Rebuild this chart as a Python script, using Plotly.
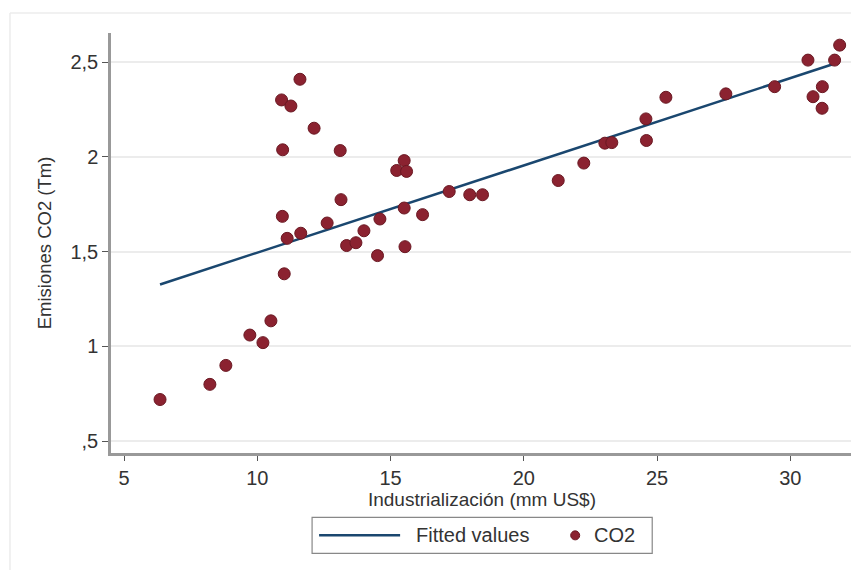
import numpy as np
import plotly.graph_objects as go

# Data
industrializacion = [6.35, 8.22, 8.82, 9.72, 10.21, 10.51, 11.01, 10.94, 11.12, 11.63,
                     10.91, 11.26, 11.60, 10.95, 12.13, 13.11, 13.14, 12.62, 13.35, 13.70,
                     14.00, 14.51, 14.60, 15.54, 15.51, 16.20, 15.51, 15.23, 15.60, 17.20,
                     17.97, 18.45, 21.29, 22.25, 23.04, 23.30, 24.58, 24.60, 25.33, 27.58,
                     29.41, 30.66, 30.85, 31.20, 31.19, 31.66, 31.85]
co2 = [0.72, 0.80, 0.90, 1.06, 1.02, 1.135, 1.383, 1.686, 1.57, 1.597,
       2.30, 2.268, 2.409, 2.037, 2.151, 2.033, 1.774, 1.651, 1.532, 1.547,
       1.61, 1.479, 1.672, 1.526, 1.73, 1.695, 1.98, 1.928, 1.923, 1.817,
       1.80, 1.80, 1.875, 1.967, 2.072, 2.075, 2.20, 2.086, 2.314, 2.332,
       2.37, 2.51, 2.317, 2.37, 2.256, 2.51, 2.589]

x_tickvals = [5, 10, 15, 20, 25, 30]
y_tickvals = [0.5, 1, 1.5, 2, 2.5]
y_ticktext = [",5", "1", "1,5", "2", "2,5"]

x_title = "Industrialización (mm US$)"
y_title = "Emisiones CO2 (Tm)"
legend_labels = ["Fitted values", "CO2"]

# Linear fit (like Stata lfit)
xa = np.array(industrializacion)
ya = np.array(co2)
slope, intercept = np.polyfit(xa, ya, 1)
fit_x = np.array([xa.min(), xa.max()])
fit_y = intercept + slope * fit_x

LINE_COLOR = "#1a476f"
MARKER_COLOR = "#8b2230"
FONT = "Liberation Sans, Arial, sans-serif"
TEXT = "#333333"

W, H = 859, 570
OFF = 8  # page body margin
# target plot box on screen: left 111, right 852.7, top 33, bottom 452.7
L = 111 - OFF
T = 33 - OFF
R = W - (852.7 - OFF)
B = H - (452.7 - OFF)
pw = W - L - R
ph = H - T - B


def px(xs):
    return (xs - OFF - L) / pw


def py(ys):
    return (H - B - (ys - OFF)) / ph


fig = go.Figure()
fig.add_trace(go.Scatter(x=fit_x, y=fit_y, mode="lines", name=legend_labels[0],
                         line=dict(color=LINE_COLOR, width=2.5), showlegend=False))
fig.add_trace(go.Scatter(x=industrializacion, y=co2, mode="markers", name=legend_labels[1],
                         marker=dict(color=MARKER_COLOR, size=12,
                                     line=dict(color="#6a1822", width=1)),
                         showlegend=False))

shapes = []
# faint outer frame (left and top edges)
shapes.append(dict(type="line", xref="paper", yref="paper", x0=px(10), x1=px(W + 20), y0=py(13), y1=py(13),
                   line=dict(color="#ececec", width=1.5)))
shapes.append(dict(type="line", xref="paper", yref="paper", x0=px(10), x1=px(10), y0=py(13), y1=py(H + 20),
                   line=dict(color="#ececec", width=1.5)))
# legend box
shapes.append(dict(type="rect", xref="paper", yref="paper", x0=px(312), x1=px(652), y0=py(517), y1=py(553),
                   line=dict(color="#888888", width=1.2), fillcolor="white"))
shapes.append(dict(type="line", xref="paper", yref="paper", x0=px(319), x1=px(400), y0=py(535), y1=py(535),
                   line=dict(color=LINE_COLOR, width=2.5)))
shapes.append(dict(type="circle", xref="paper", yref="paper", x0=px(570.5), x1=px(579.5), y0=py(530.5), y1=py(539.5),
                   line=dict(color="#6a1822", width=1), fillcolor=MARKER_COLOR))

annotations = [
    dict(text=legend_labels[0], xref="paper", yref="paper", x=px(414), y=py(535), xanchor="left", yanchor="middle",
         showarrow=False, font=dict(family=FONT, size=20, color=TEXT)),
    dict(text=legend_labels[1], xref="paper", yref="paper", x=px(592), y=py(535), xanchor="left", yanchor="middle",
         showarrow=False, font=dict(family=FONT, size=20, color=TEXT)),
]

fig.update_layout(
    width=W, height=H,
    margin=dict(l=L, r=R, t=T, b=B, autoexpand=False),
    paper_bgcolor="white", plot_bgcolor="white",
    font=dict(family=FONT, size=18, color=TEXT),
    shapes=shapes, annotations=annotations,
    showlegend=False,
)
fig.update_xaxes(range=[4.51, 32.35], tickvals=x_tickvals, ticks="outside", ticklen=5, tickwidth=1,
                 tickcolor="#555555", showline=True, linecolor="#999999", linewidth=2.5,
                 showgrid=False, zeroline=False, tickfont=dict(size=20, color=TEXT), automargin=False,
                 title=dict(text=x_title, font=dict(size=19, color=TEXT), standoff=0))
fig.update_yaxes(range=[0.438, 2.653], tickvals=y_tickvals, ticktext=y_ticktext, ticks="outside", ticklen=6,
                 tickwidth=1, tickcolor="#555555", showline=True, linecolor="#999999", linewidth=2.5,
                 showgrid=True, gridcolor="#ececec", gridwidth=1.5, zeroline=False, automargin=False,
                 tickfont=dict(size=20, color=TEXT),
                 title=dict(text=y_title, font=dict(size=18.5, color=TEXT), standoff=14))

fig.write_html("out.html")
